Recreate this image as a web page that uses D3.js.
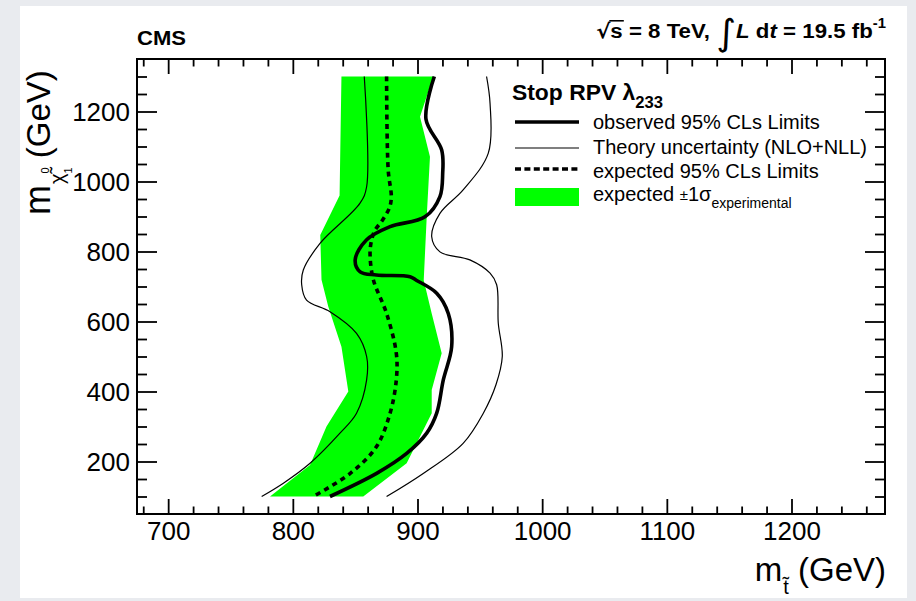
<!DOCTYPE html>
<html>
<head>
<meta charset="utf-8">
<script src="https://cdn.jsdelivr.net/npm/d3@7"></script>
<style>
  html, body { margin: 0; padding: 0; background: #e9ebef; }
  svg { display: block; }
</style>
</head>
<body>
<svg id="chart" width="916" height="601"></svg>
<script>
// Exclusion contours in the (stop mass, neutralino mass) plane, GeV.
// Each point is [m_stop, m_neutralino].
const observed = [
  [913.5, 1300], [906.8, 1178], [919.4, 1090], [920.2, 1023], [918, 957],
  [906, 899], [878, 871], [859, 833], [850, 776], [854, 742], [867, 733],
  [894, 728], [899, 718], [915.4, 681], [924.7, 623], [927.4, 528],
  [920.7, 433], [915.4, 338], [907.4, 281], [891.3, 223], [867.2, 166], [829.8, 100]
];
const expected = [
  [875.2, 1300], [876.5, 1033], [879, 955], [877.5, 925], [872, 890],
  [865.5, 858], [862.5, 820], [862, 785], [864.6, 719], [875.2, 623],
  [883, 509], [883, 433], [878, 338], [867, 242], [846, 166], [816.4, 100]
];
const theoryMinus = [
  [857.3, 1300], [859.2, 985], [853.9, 938], [821.8, 823], [808.4, 747],
  [807.1, 705], [811, 661], [829.8, 628], [851.1, 566], [859.2, 500],
  [859.2, 433], [851.1, 338], [837.8, 281], [813.8, 195], [792.4, 138], [775, 100]
];
const theoryPlus = [
  [955.4, 1300], [958.2, 1223], [956.8, 1081], [936.6, 976], [918, 909],
  [911.4, 842], [918, 799], [942, 776], [958.2, 738], [963.5, 705],
  [964.8, 595], [968, 500], [963, 420], [952.8, 338], [936.6, 252],
  [904.6, 166], [875.2, 100]
];
// ±1σ band of the expected limit: left and right edges, top to bottom
const bandLeft = [
  [839, 1300], [837.5, 960], [822, 847], [823, 719], [828.4, 643],
  [839, 528], [844.5, 400], [827, 300], [813.8, 190], [781.7, 100]
];
const bandRight = [
  [912.7, 1300], [902, 1185], [910, 1071], [907.4, 899], [905, 718],
  [911.4, 623], [919.4, 509], [911.4, 404], [911.4, 338], [891.3, 195], [856.5, 100]
];

const xMajor = [700, 800, 900, 1000, 1100, 1200];
const yMajor = [200, 400, 600, 800, 1000, 1200];
const xMinor = d3.range(680, 1275, 20).filter(v => v % 100 !== 0);
const yMinor = d3.range(100, 1350, 50).filter(v => v % 200 !== 0);

const FONT = "'Liberation Sans', Arial, Helvetica, sans-serif";
const GREEN = "#00ff00";

const svg = d3.select("#chart");

// canvas
svg.append("rect").attr("x", 20).attr("y", 6).attr("width", 887).attr("height", 592)
  .attr("fill", "#ffffff");

const x = d3.scaleLinear().domain([675, 1275]).range([137, 885]);
const y = d3.scaleLinear().domain([50, 1350]).range([514, 59]);

svg.append("clipPath").attr("id", "plotclip")
  .append("rect").attr("x", 137).attr("y", 59).attr("width", 748).attr("height", 455);

const plot = svg.append("g").attr("clip-path", "url(#plotclip)");

// band
const bandPoly = bandLeft.concat(bandRight.slice().reverse());
plot.append("path")
  .attr("d", d3.line().x(d => x(d[0])).y(d => y(d[1]))(bandPoly) + "Z")
  .attr("fill", GREEN).attr("stroke", "none");

const smooth = d3.line().x(d => x(d[0])).y(d => y(d[1])).curve(d3.curveCatmullRom.alpha(0.5));

plot.append("path").attr("d", smooth(theoryMinus))
  .attr("fill", "none").attr("stroke", "#000").attr("stroke-width", 1.2);
plot.append("path").attr("d", smooth(theoryPlus))
  .attr("fill", "none").attr("stroke", "#000").attr("stroke-width", 1.2);
plot.append("path").attr("d", smooth(expected))
  .attr("fill", "none").attr("stroke", "#000").attr("stroke-width", 3.6)
  .attr("stroke-dasharray", "5,4.5");
plot.append("path").attr("d", smooth(observed))
  .attr("fill", "none").attr("stroke", "#000").attr("stroke-width", 3.6);

// axes (ticks pointing inward)
function styleAxis(g) {
  g.select(".domain").remove();
  g.selectAll(".tick line").attr("stroke", "#000").attr("stroke-width", 1.8);
  g.selectAll(".tick text").attr("fill", "#000").style("font-family", FONT).style("font-size", "26px");
}
svg.append("g").attr("transform", "translate(0,514)")
  .call(d3.axisBottom(x).tickValues(xMajor).tickSize(-15).tickPadding(8).tickFormat(d3.format("d")))
  .call(styleAxis);
svg.append("g").attr("transform", "translate(0,514)")
  .call(d3.axisBottom(x).tickValues(xMinor).tickSize(-7.5).tickFormat(""))
  .call(styleAxis);
svg.append("g").attr("transform", "translate(0,59)")
  .call(d3.axisTop(x).tickValues(xMajor).tickSize(-15).tickFormat(""))
  .call(styleAxis);
svg.append("g").attr("transform", "translate(0,59)")
  .call(d3.axisTop(x).tickValues(xMinor).tickSize(-7.5).tickFormat(""))
  .call(styleAxis);
const yl = svg.append("g").attr("transform", "translate(137,0)")
  .call(d3.axisLeft(y).tickValues(yMajor).tickSize(-20).tickPadding(7).tickFormat(d3.format("d")))
  .call(styleAxis);
yl.selectAll(".tick text").attr("dy", "0.36em");
svg.append("g").attr("transform", "translate(137,0)")
  .call(d3.axisLeft(y).tickValues(yMinor).tickSize(-10).tickFormat(""))
  .call(styleAxis);
svg.append("g").attr("transform", "translate(885,0)")
  .call(d3.axisRight(y).tickValues(yMajor).tickSize(-20).tickFormat(""))
  .call(styleAxis);
svg.append("g").attr("transform", "translate(885,0)")
  .call(d3.axisRight(y).tickValues(yMinor).tickSize(-10).tickFormat(""))
  .call(styleAxis);

// frame
svg.append("rect").attr("x", 137).attr("y", 59).attr("width", 748).attr("height", 455)
  .attr("fill", "none").attr("stroke", "#000").attr("stroke-width", 2);

// Lays out a run of text pieces (sub/superscripts, overlines) left to right.
function rich(parent, px, py, parts, opts = {}) {
  const outer = parent.append("g");
  const g = outer.append("g");
  let cx = 0, prevX = 0;
  parts.forEach(p => {
    const at = p.stack ? prevX : cx + (p.dx || 0);
    const by = p.y || 0;
    const t = g.append("text").attr("x", at).attr("y", by).text(p.t)
      .style("font-family", p.family || FONT)
      .style("font-size", p.size + "px")
      .style("font-weight", p.weight || "normal")
      .style("font-style", p.style || "normal")
      .attr("fill", "#000");
    const w = t.node().getComputedTextLength();
    if (p.overline) {
      g.append("line").attr("x1", at - 1).attr("x2", at + w + 1)
        .attr("y1", by - p.size * 0.82).attr("y2", by - p.size * 0.82)
        .attr("stroke", "#000").attr("stroke-width", 1.6);
    }
    prevX = at;
    cx = Math.max(cx, at + w);
  });
  const sx = opts.scaleX || 1;
  const shift = opts.anchor === "end" ? -cx * sx : opts.anchor === "middle" ? -cx * sx / 2 : 0;
  outer.attr("transform", `translate(${px},${py})` + (opts.rotate ? ` rotate(${opts.rotate})` : ""));
  g.attr("transform", `translate(${shift},0) scale(${sx},1)`);
  return outer;
}

const NB = "\u00A0";

// header
rich(svg, 137, 45, [{ t: "CMS", size: 21, weight: "bold" }], { scaleX: 1.05 });
rich(svg, 886, 38, [
  { t: "√", size: 20, weight: "bold", family: "'DejaVu Sans', sans-serif" },
  { t: "s", size: 21, weight: "bold", overline: true },
  { t: NB + "=" + NB + "8" + NB + "TeV," + NB, size: 21, weight: "bold" },
  { t: "∫", size: 36, y: 7, family: "'DejaVu Sans', sans-serif" },
  { t: "L", size: 21, weight: "bold", style: "italic" },
  { t: NB + "d", size: 21, weight: "bold" },
  { t: "t", size: 21, weight: "bold", style: "italic" },
  { t: NB + "=" + NB + "19.5" + NB + "fb", size: 21, weight: "bold" },
  { t: "-1", size: 14, weight: "bold", y: -10 }
], { anchor: "end", scaleX: 1.06 });

// x title
rich(svg, 886, 581, [
  { t: "m", size: 33 },
  { t: "t\u0303", size: 20, y: 13, dx: 1 },
  { t: NB + "(GeV)", size: 33 }
], { anchor: "end" });

// y title
rich(svg, 50, 215, [
  { t: "m", size: 36 },
  { t: "χ\u0303", size: 20, y: 14, dx: 1 },
  { t: "0", size: 11, y: -1, dx: 0 },
  { t: "1", size: 11, y: 22, stack: true },
  { t: NB + "(GeV)", size: 33 }
], { rotate: -90 });

// legend
rich(svg, 512, 100, [
  { t: "Stop RPV λ", size: 22, weight: "bold" },
  { t: "233", size: 16, weight: "bold", y: 8 }
], { scaleX: 1.04 });
const legendRows = [
  { label: "observed 95% CLs Limits", kind: "observed", yc: 122 },
  { label: "Theory uncertainty (NLO+NLL)", kind: "theory", yc: 148 },
  { label: "expected 95% CLs Limits", kind: "expected", yc: 169 },
  { label: "expected", kind: "band", yc: 197 }
];
legendRows.forEach(r => {
  if (r.kind === "band") {
    svg.append("rect").attr("x", 515).attr("y", r.yc - 9).attr("width", 64).attr("height", 18)
      .attr("fill", GREEN);
  } else {
    svg.append("line").attr("x1", 515).attr("x2", 579).attr("y1", r.yc).attr("y2", r.yc)
      .attr("stroke", "#000")
      .attr("stroke-width", r.kind === "theory" ? 1.2 : 3.6)
      .attr("stroke-dasharray", r.kind === "expected" ? "6,3.4" : null);
  }
});
rich(svg, 593, 129, [{ t: "observed 95% CLs Limits", size: 20 }]);
rich(svg, 593, 154, [{ t: "Theory uncertainty (NLO+NLL)", size: 20 }]);
rich(svg, 593, 178, [{ t: "expected 95% CLs Limits", size: 20 }]);
rich(svg, 593, 201, [
  { t: "expected" + NB, size: 20 },
  { t: "±", size: 15, y: -1 },
  { t: "1σ", size: 20 },
  { t: "experimental", size: 14, y: 7 }
]);
</script>
</body>
</html>
